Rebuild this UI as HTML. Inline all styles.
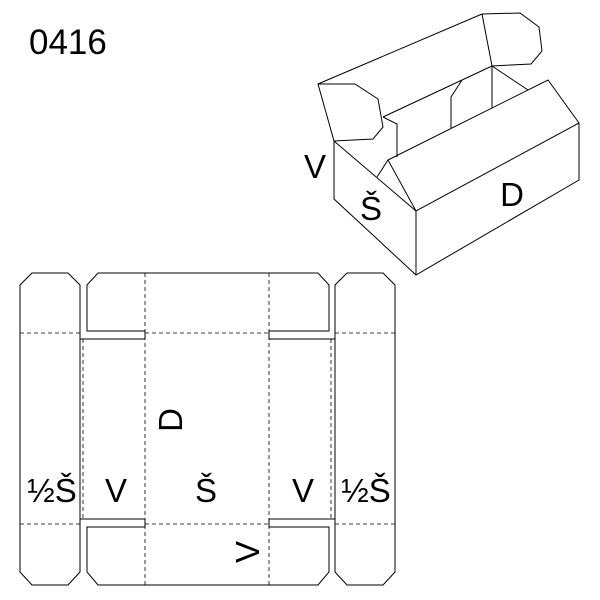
<!DOCTYPE html>
<html><head><style>body{margin:0;background:#fff}svg{display:block}text{font-family:"Liberation Sans",sans-serif;fill:#000}</style></head><body>
<svg width="600" height="600" viewBox="0 0 600 600" xmlns="http://www.w3.org/2000/svg">
<g fill="none" stroke="#000" stroke-width="1">
<!-- 3D box -->
<polygon points="318,84 355,84 378,99 383,127 373,139 334,141"/>
<line x1="318" y1="84" x2="482" y2="14"/>
<polyline points="482,14 520,13 539,27 542,51 531,64 492,66 482,14"/>
<polyline points="334,141 334,199 416,275 579,180 579,123 548,80 388,160 416,211 579,123"/>
<line x1="334" y1="141" x2="416" y2="211"/>
<line x1="416" y1="211" x2="416" y2="275"/>
<line x1="377" y1="177" x2="388" y2="160"/>
<line x1="383" y1="117" x2="492" y2="66"/>
<polyline points="383,117 397,124 397,157"/>
<line x1="492" y1="66" x2="492" y2="108"/>
<line x1="492" y1="66" x2="528" y2="90"/>
<polyline points="462,80 451,97 451,128"/>
<!-- flat net -->
<polygon points="32,273 68,273 80,285 80,572 68,585 32,585 20,572 20,285"/>
<polygon points="347,273 383,273 395,285 395,572 383,585 347,585 335,572 335,285"/>
<polyline points="80,339 145,339 145,331 87,331 87,285 98,273 318,273 329,285 329,331 269,331 269,339 335,339"/>
<polyline points="80,519 145,519 145,527 87,527 87,572 98,585 318,585 329,572 329,527 269,527 269,519 335,519"/>
</g>
<g fill="none" stroke="#000" stroke-width="0.8" stroke-dasharray="4,3">
<line x1="145" y1="273" x2="145" y2="585"/>
<line x1="269" y1="273" x2="269" y2="585"/>
<line x1="83" y1="339" x2="83" y2="519"/>
<line x1="331" y1="339" x2="331" y2="519"/>
<line x1="20" y1="333" x2="80" y2="333"/>
<line x1="335" y1="333" x2="395" y2="333"/>
<line x1="20" y1="524" x2="80" y2="524"/>
<line x1="335" y1="524" x2="395" y2="524"/>
<line x1="145" y1="333" x2="269" y2="333"/>
<line x1="145" y1="524" x2="269" y2="524"/>
</g>
<text x="29" y="54" font-size="35">0416</text>
<text x="315" y="178" font-size="33" text-anchor="middle">V</text>
<text x="371" y="220" font-size="33" text-anchor="middle">Š</text>
<text x="512" y="206" font-size="33" text-anchor="middle">D</text>
<text x="52" y="502" font-size="33" text-anchor="middle">½Š</text>
<text x="116" y="502" font-size="33" text-anchor="middle">V</text>
<text x="206" y="502" font-size="33" text-anchor="middle">Š</text>
<text x="303" y="502" font-size="33" text-anchor="middle">V</text>
<text x="366" y="502" font-size="33" text-anchor="middle">½Š</text>
<text transform="translate(182,420) rotate(-90)" font-size="33" text-anchor="middle">D</text>
<text transform="translate(259,552) rotate(-90)" font-size="33" text-anchor="middle">V</text>
</svg>
</body></html>
